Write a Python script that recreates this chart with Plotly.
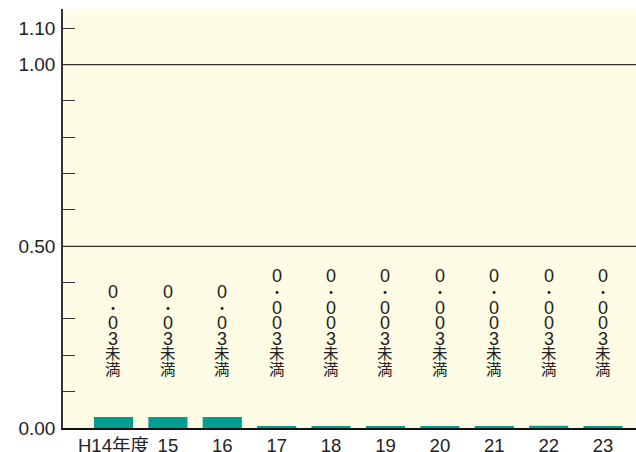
import plotly.graph_objects as go

categories = ["H14年度", "15", "16", "17", "18", "19", "20", "21", "22", "23"]
values = [0.03, 0.03, 0.03, 0.003, 0.003, 0.003, 0.003, 0.003, 0.006, 0.003]
labels = ["0.03未満", "0.03未満", "0.03未満", "0.003未満", "0.003未満", "0.003未満",
          "0.003未満", "0.003未満", "0.003未満", "0.003未満"]
y_tickvals = [0.0, 0.1, 0.2, 0.3, 0.4, 0.5, 0.6, 0.7, 0.8, 0.9, 1.0, 1.1]
y_ticktext = ["0.00", "", "", "", "", "0.50", "", "", "", "", "1.00", "1.10"]
grid_values = [0.5, 1.0]

FONT = "Liberation Sans, Arial, Noto Sans CJK JP, sans-serif"
BAR_COLOR = "#009e8f"
BG = "#fefce5"
LABEL_BASE = 0.161
PITCH = 15.6


def char_size(ch):
    if ch == "・":
        return 14
    if ch.isdigit():
        return 18
    return 15.5


fig = go.Figure()
fig.add_trace(go.Bar(x=list(range(len(categories))), y=values, marker_color=BAR_COLOR,
                     marker_line_width=0, width=0.72, hoverinfo="skip"))

annotations = []
for i, lab in enumerate(labels):
    chars = list(lab.replace(".", "・"))
    n = len(chars)
    for j, ch in enumerate(chars):
        k = n - 1 - j  # position from bottom
        annotations.append(dict(
            x=i, y=LABEL_BASE, xref="x", yref="y", text=ch, showarrow=False,
            yanchor="middle", xanchor="center", yshift=k * PITCH,
            height=15, valign="middle", borderpad=0,
            font=dict(family=FONT, size=char_size(ch), color="#222222"),
        ))

shapes = [dict(type="line", xref="paper", x0=0, x1=1, yref="y", y0=g, y1=g,
               line=dict(color="#333333", width=1.3), layer="below") for g in grid_values]

fig.update_layout(
    width=636, height=452,
    margin=dict(l=63, r=0, t=9, b=24, autoexpand=False),
    paper_bgcolor="white", plot_bgcolor=BG,
    showlegend=False,
    font=dict(family=FONT, size=18.5, color="#222222"),
    annotations=annotations, shapes=shapes,
    xaxis=dict(range=[-0.928, 9.605], showgrid=False, zeroline=False,
               tickvals=list(range(len(categories))), ticktext=categories,
               showline=True, linecolor="#111111", linewidth=1.5,
               ticks="", tickfont=dict(size=18.5), ticklabelstandoff=0,
               automargin=False, fixedrange=True),
    yaxis=dict(range=[0, 1.153], tickvals=y_tickvals, ticktext=y_ticktext,
               ticks="inside", ticklen=12, tickwidth=1.3, tickcolor="#333333",
               showgrid=False, zeroline=False, showline=True,
               linecolor="#333333", linewidth=1.5, ticklabelstandoff=2,
               tickfont=dict(size=19), automargin=False, fixedrange=True),
)

fig.write_html("out.html", config={"displayModeBar": False},
               post_script="document.body.style.margin='0px';")
